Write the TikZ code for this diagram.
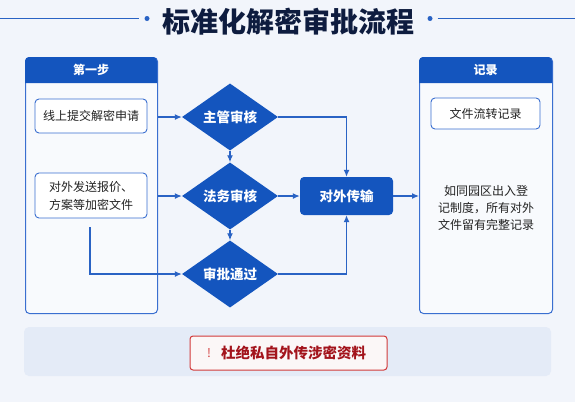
\documentclass[tikz,border=0pt]{standalone}
\usepackage{fontspec}
\setmainfont{Noto Sans CJK SC}
\usetikzlibrary{shapes.geometric,arrows.meta}
\definecolor{bgc}{HTML}{F2F5FB}
\definecolor{mainblue}{HTML}{1455BE}
\definecolor{lineblue}{HTML}{2A63C4}
\definecolor{panelborder}{HTML}{3A6FD0}
\definecolor{panelfill}{HTML}{F8FAFD}
\definecolor{titlec}{HTML}{0E1C3F}
\definecolor{txt}{HTML}{222222}
\definecolor{bandc}{HTML}{E4EBF7}
\definecolor{redb}{HTML}{D23A3A}
\definecolor{redt}{HTML}{A3141C}
\definecolor{redfill}{HTML}{FBF7F7}
\tikzset{
  panelbox/.style={draw=panelborder, line width=1pt, fill=panelfill, rounded corners=4pt, anchor=north west, inner sep=0pt},
  hdrtext/.style={text=white, font=\fontsize{12}{14}\selectfont\bfseries},
  innerbox/.style={draw=panelborder, line width=0.9pt, fill=white, rounded corners=4pt, text=txt, font=\fontsize{12}{18}\selectfont, align=center, inner sep=0pt},
  dia/.style={diamond, fill=mainblue, text=white, font=\fontsize{13.5}{15}\selectfont\bfseries, minimum width=96pt, minimum height=56pt, inner sep=0pt},
  procbox/.style={fill=mainblue, rounded corners=4pt, text=white, font=\fontsize{13.5}{15}\selectfont\bfseries, minimum width=93pt, minimum height=38pt, inner sep=0pt},
  arr/.style={draw=lineblue, line width=1.2pt, -{Latex[length=7pt,width=6pt]}},
  plaintext/.style={text=txt, font=\fontsize{12}{17}\selectfont, align=center, inner sep=0pt},
}
\begin{document}
\begin{tikzpicture}[x=1pt,y=-1pt]
\useasboundingbox (0,0) rectangle (575,402);
\fill[bgc] (0,0) rectangle (575,402);

% title
\node[text=titlec, font=\fontsize{28}{30}\selectfont\bfseries, inner sep=0pt] (title) at (288,22) {标准化解密审批流程};
\coordinate (tl0) at (0,18.5);
\coordinate (tr0) at (575,18.5);
\node[circle, fill=lineblue, inner sep=0pt, minimum size=5pt] (dotl) at (147,18.5) {};
\node[circle, fill=lineblue, inner sep=0pt, minimum size=5pt] (dotr) at (430,18.5) {};
\draw[lineblue, line width=0.9pt] (tl0) -- ([xshift=-5pt]dotl.west);
\draw[lineblue, line width=0.9pt] ([xshift=5pt]dotr.east) -- (tr0);

% left panel
\node[panelbox, minimum width=132pt, minimum height=256pt] (lp) at (25,57) {};
\fill[mainblue] (25,83) {[rounded corners=4pt] -- (25,57) -- (157,57)} -- (157,83) -- cycle;
\node[hdrtext] (lph) at (91,70) {第一步};
\node[innerbox, minimum width=112pt, minimum height=34pt] (b1) at (91,116) {线上提交解密申请};
\node[innerbox, minimum width=112pt, minimum height=45pt] (b2) at (91,195.5) {对外发送报价、\\方案等加密文件};

% right panel
\node[panelbox, minimum width=133pt, minimum height=256pt] (rp) at (419,57) {};
\fill[mainblue] (419,83) {[rounded corners=4pt] -- (419,57) -- (552,57)} -- (552,83) -- cycle;
\node[hdrtext] (rph) at (485.5,70) {记录};
\node[innerbox, minimum width=109pt, minimum height=31pt] (rb1) at (485.5,113.5) {文件流转记录};
\node[plaintext] (rtext) at (486,208) {如同园区出入登\\记制度，所有对外\\文件留有完整记录};

% diamonds
\node[dia] (d1) at (230,117) {主管审核};
\node[dia] (d2) at (230,196) {法务审核};
\node[dia] (d3) at (230,274) {审批通过};

% process box
\node[procbox] (tx) at (346.5,196) {对外传输};

% connectors
\draw[arr] (lp.east |- d1.west) -- (d1.west);
\draw[arr] (lp.east |- d2.west) -- (d2.west);
\coordinate (s3) at (90,227);
\draw[arr] (s3) |- (d3.west);
\draw[arr] (d1.south) -- (d2.north);
\draw[arr] (d2.south) -- (d3.north);
\draw[arr] (d1.east) -| (tx.north);
\draw[arr] (d2.east) -- (tx.west);
\draw[arr] (d3.east) -| (tx.south);
\draw[arr] (tx.east) -- (rp.west |- tx.east);

% bottom band
\node[fill=bandc, rounded corners=5pt, minimum width=527pt, minimum height=49pt, inner sep=0pt] (band) at (287.5,351.5) {};
\node[draw=redb, line width=1pt, fill=redfill, rounded corners=3pt, minimum width=197pt, minimum height=34pt, inner sep=0pt] (warn) at (288.5,353) {};
\node[text=redb, font=\fontsize{12}{14}\selectfont, inner sep=0pt] (excl) at (209,353) {!};
\node[text=redt, font=\fontsize{14.5}{16}\selectfont\bfseries, inner sep=0pt, anchor=west] (warnt) at (221,353) {杜绝私自外传涉密资料};
\end{tikzpicture}
\end{document}
